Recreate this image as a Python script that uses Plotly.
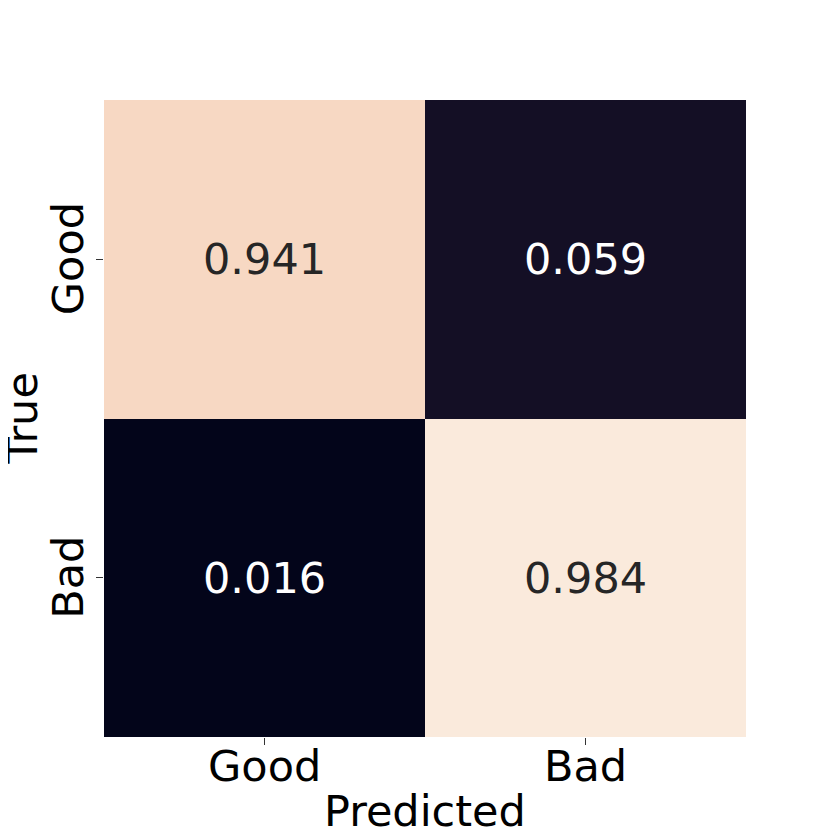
import plotly.graph_objects as go

labels_x = ["Good", "Bad"]
labels_y = ["Good", "Bad"]
values = [[0.941, 0.059],
          [0.016, 0.984]]
text_labels = [["0.941", "0.059"], ["0.016", "0.984"]]
x_title = "Predicted"
y_title = "True"

rocket = [
    [0.0, "#03051A"], [0.044, "#140F25"], [0.1, "#221331"], [0.2, "#3C1A42"],
    [0.3, "#5F1C50"], [0.4, "#841E5A"], [0.5, "#AB185A"], [0.6, "#D21E4D"],
    [0.7, "#F06043"], [0.8, "#F58E67"], [0.9, "#F6BC9F"], [0.955, "#F7D8C3"],
    [1.0, "#FAEADC"],
]

zmin = min(min(r) for r in values)
zmax = max(max(r) for r in values)

fig = go.Figure(go.Heatmap(
    z=values, x=labels_x, y=labels_y, colorscale=rocket,
    zmin=zmin, zmax=zmax, showscale=False, hoverinfo="skip",
))

font = "DejaVu Sans"
FS = 43
mid = (zmin + zmax) / 2
for i, ylab in enumerate(labels_y):
    for j, xlab in enumerate(labels_x):
        v = values[i][j]
        fig.add_annotation(x=xlab, y=ylab, text=text_labels[i][j], showarrow=False,
                           font=dict(family=font, size=FS,
                                     color="#262626" if v > mid else "#FFFFFF"))

# page has an 8px body margin; plot area in figure pixels
SZ = 830
L, R, T, B = 96, 738, 92, 729

def px(xpix):
    return xpix / SZ

def py(ypix):
    return (SZ - ypix) / SZ

# tick labels
for lab in labels_x:
    fig.add_annotation(x=lab, xref="x", yref="paper", y=py(758), text=lab,
                       showarrow=False, xanchor="center", yanchor="middle",
                       font=dict(family=font, size=FS, color="black"))
for lab in labels_y:
    fig.add_annotation(y=lab, yref="y", xref="paper", x=px(60), text=lab,
                       showarrow=False, xanchor="center", yanchor="middle",
                       textangle=-90,
                       font=dict(family=font, size=FS, color="black"))

fig.add_annotation(xref="x domain", yref="paper", x=0.5, y=py(803), text=x_title,
                   showarrow=False, xanchor="center", yanchor="middle",
                   font=dict(family=font, size=FS, color="black"))
fig.add_annotation(xref="paper", yref="y domain", x=px(13), y=0.5, text=y_title,
                   showarrow=False, textangle=-90, xanchor="center", yanchor="middle",
                   font=dict(family=font, size=FS, color="black"))

fig.update_layout(
    width=SZ, height=SZ, margin=dict(l=0, r=0, t=0, b=0),
    paper_bgcolor="white", plot_bgcolor="white",
    xaxis=dict(domain=[L / SZ, R / SZ], ticks="outside", ticklen=7,
               tickwidth=1, tickcolor="#333", showgrid=False, zeroline=False,
               showticklabels=False, showline=False),
    yaxis=dict(domain=[(SZ - B) / SZ, (SZ - T) / SZ], ticks="outside", ticklen=7,
               tickwidth=1, tickcolor="#333", showgrid=False, zeroline=False,
               autorange="reversed", showticklabels=False, showline=False),
)

fig.write_html("out.html")
